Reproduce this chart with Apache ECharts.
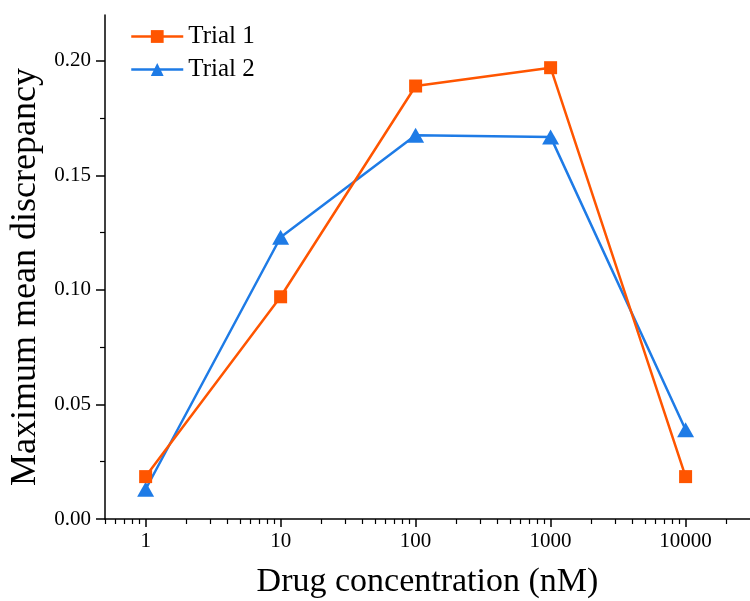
<!DOCTYPE html>
<html>
<head>
<meta charset="utf-8">
<script src="https://cdn.jsdelivr.net/npm/echarts@6/dist/echarts.min.js"></script>
<style>
  html, body { margin: 0; padding: 0; background: #fff; }
  #chart { width: 750px; height: 601px; }
</style>
</head>
<body>
<div id="chart"></div>
<script>
// Drug concentrations (nM) and the measured discrepancy per trial
const concentrations = [1, 10, 100, 1000, 10000];
const trial1 = [0.0185, 0.097, 0.189, 0.197, 0.0185];
const trial2 = [0.013, 0.123, 0.1675, 0.1668, 0.039];

// Axis tick values
const xMajorTicks = [1, 10, 100, 1000, 10000];
const xMinorTicks = [0.5, 0.6, 0.7, 0.8, 0.9,
  2, 3, 4, 5, 6, 7, 8, 9,
  20, 30, 40, 50, 60, 70, 80, 90,
  200, 300, 400, 500, 600, 700, 800, 900,
  2000, 3000, 4000, 5000, 6000, 7000, 8000, 9000,
  20000];
const yMajorTicks = [0, 0.05, 0.10, 0.15, 0.20];
const yMinorTicks = [0.025, 0.075, 0.125, 0.175];

const FONT = '"Liberation Serif", "DejaVu Serif", serif';
const ORANGE = '#FF5500';
const BLUE = '#1E7BE6';

const toPairs = (xs, ys) => xs.map((x, i) => [x, ys[i]]);

const chart = echarts.init(document.getElementById('chart'), null, { renderer: 'canvas' });

const xBase = { type: 'log', logBase: 10, min: 0.5, max: 30000, gridIndex: 0 };
const yBase = { type: 'value', min: 0, max: 0.22, gridIndex: 0 };

chart.setOption({
  animation: false,
  backgroundColor: '#ffffff',
  grid: { left: 105, right: 0, top: 15, bottom: 82, containLabel: false, outerBoundsMode: 'none' },
  legend: {
    left: 125, top: 19, orient: 'vertical',
    itemWidth: 52, itemHeight: 16, itemGap: 8,
    lineStyle: { width: 2.5 },
    textStyle: { fontFamily: FONT, fontSize: 25, color: '#000' },
    data: ['Trial 1', 'Trial 2']
  },
  xAxis: [
    Object.assign({}, xBase, {
      name: 'Drug concentration (nM)',
      nameLocation: 'middle',
      nameGap: 63,
      nameTextStyle: { fontFamily: FONT, fontSize: 34, color: '#000', verticalAlign: 'middle' },
      axisLine: { show: true, onZero: false, lineStyle: { color: '#000', width: 1.5 } },
      axisTick: { show: true, length: 8, lineStyle: { color: '#000', width: 1.5 }, customValues: xMajorTicks },
      axisLabel: { fontFamily: FONT, fontSize: 21, color: '#000', margin: 12, customValues: xMajorTicks,
        formatter: v => String(v) },
      splitLine: { show: false },
      minorTick: { show: false }
    }),
    Object.assign({}, xBase, {
      position: 'bottom',
      axisLine: { show: false },
      axisTick: { show: true, length: 5, lineStyle: { color: '#000', width: 1.2 }, customValues: xMinorTicks },
      axisLabel: { show: false },
      splitLine: { show: false }
    })
  ],
  yAxis: [
    Object.assign({}, yBase, {
      name: 'Maximum mean discrepancy',
      nameLocation: 'middle',
      nameGap: 76,
      nameTextStyle: { fontFamily: FONT, fontSize: 36, color: '#000', verticalAlign: 'middle', padding: [0, 20, 0, 0] },
      axisLine: { show: true, onZero: false, lineStyle: { color: '#000', width: 1.5 } },
      axisTick: { show: true, length: 9, lineStyle: { color: '#000', width: 1.5 }, customValues: yMajorTicks },
      axisLabel: { fontFamily: FONT, fontSize: 21, color: '#000', margin: 14, customValues: yMajorTicks,
        formatter: v => v.toFixed(2) },
      splitLine: { show: false }
    }),
    Object.assign({}, yBase, {
      position: 'left',
      axisLine: { show: false },
      axisTick: { show: true, length: 5, lineStyle: { color: '#000', width: 1.2 }, customValues: yMinorTicks },
      axisLabel: { show: false },
      splitLine: { show: false }
    })
  ],
  series: [
    {
      name: 'Trial 1', type: 'line', xAxisIndex: 0, yAxisIndex: 0,
      data: toPairs(concentrations, trial1),
      symbol: 'rect', symbolSize: 13,
      lineStyle: { color: ORANGE, width: 2.5 },
      itemStyle: { color: ORANGE },
      color: ORANGE,
      z: 3
    },
    {
      name: 'Trial 2', type: 'line', xAxisIndex: 0, yAxisIndex: 0,
      data: toPairs(concentrations, trial2),
      symbol: 'triangle', symbolSize: [17, 15],
      lineStyle: { color: BLUE, width: 2.5 },
      itemStyle: { color: BLUE },
      color: BLUE,
      z: 2
    }
  ]
});
</script>
</body>
</html>
